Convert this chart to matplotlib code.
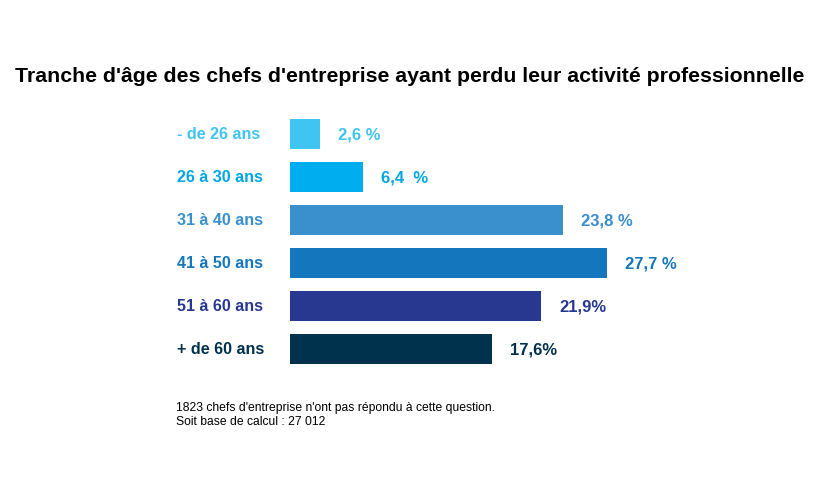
import matplotlib
matplotlib.use("Agg")
import matplotlib.pyplot as plt
from matplotlib.transforms import blended_transform_factory

plt.rcParams['font.family'] = ['Liberation Sans', 'DejaVu Sans']

categories = ["- de 26 ans", "26 à 30 ans", "31 à 40 ans", "41 à 50 ans", "51 à 60 ans", "+ de 60 ans"]
values = [2.6, 6.4, 23.8, 27.7, 21.9, 17.6]
value_labels = ["2,6 %", "6,4  %", "23,8 %", "27,7 %", "21,9%", "17,6%"]
bar_colors = ["#40C4F2", "#00AEEF", "#3A8FCD", "#1477BD", "#283891", "#00324D"]
label_colors = ["#40C4F2", "#00A6E4", "#3A8FCD", "#1477BD", "#283891", "#00324D"]

W, H = 814, 483
fig = plt.figure(figsize=(W / 100, H / 100), dpi=100)
fig.patch.set_facecolor("white")

ax_left, ax_right = 290, 720
ax_top, ax_bottom = 112.5, 370.5
ax = fig.add_axes([ax_left / W, 1 - ax_bottom / H, (ax_right - ax_left) / W, (ax_bottom - ax_top) / H])
scale = 11.46
ax.set_xlim(0, (ax_right - ax_left) / scale)
ax.set_ylim(5.5, -0.5)
ax.axis("off")

ypos = list(range(len(categories)))
ax.barh(ypos, values, height=0.7, color=bar_colors, edgecolor="none")

for y, v, lab, c in zip(ypos, values, value_labels, label_colors):
    ax.annotate(lab, xy=(v, y), xytext=(18, -1), textcoords="offset pixels",
                ha="left", va="center", fontsize=12, fontweight="bold", color=c)

tr = blended_transform_factory(fig.transFigure, ax.transData)
for y, cat, c in zip(ypos, categories, label_colors):
    fig.text(177 / W, y + 0.02, cat, transform=tr, ha="left", va="center",
             fontsize=11.6, fontweight="bold", color=c)

fig.text(410 / W, 1 - 76 / H, "Tranche d'âge des chefs d'entreprise ayant perdu leur activité professionnelle",
         ha="center", va="center", fontsize=15.3, fontweight="bold", color="black")

fig.text(176 / W, 1 - 408 / H, "1823 chefs d'entreprise n'ont pas répondu à cette question.",
         ha="left", va="center", fontsize=8.7, color="black")
fig.text(176 / W, 1 - 422 / H, "Soit base de calcul : 27 012",
         ha="left", va="center", fontsize=8.7, color="black")

fig.savefig("out.png", dpi=100, facecolor="white")
